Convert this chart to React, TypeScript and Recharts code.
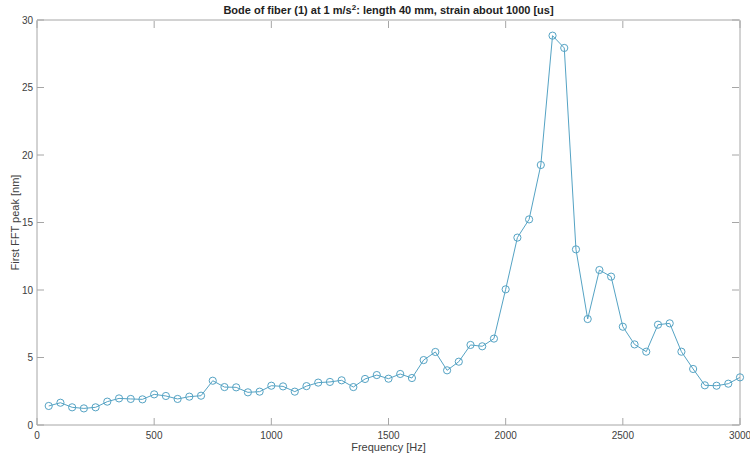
import React from "react";
import { LineChart, Line, XAxis, YAxis, Label } from "recharts";

// ---------------------------------------------------------------------------
// Datos (frecuencia en Hz, pico FFT en nm)
// ---------------------------------------------------------------------------
const FREQS = [
  50, 100, 150, 200, 250, 300, 350, 400, 450, 500,
  550, 600, 650, 700, 750, 800, 850, 900, 950, 1000,
  1050, 1100, 1150, 1200, 1250, 1300, 1350, 1400, 1450, 1500,
  1550, 1600, 1650, 1700, 1750, 1800, 1850, 1900, 1950, 2000,
  2050, 2100, 2150, 2200, 2250, 2300, 2350, 2400, 2450, 2500,
  2550, 2600, 2650, 2700, 2750, 2800, 2850, 2900, 2950, 3000,
];

const PEAKS = [
  1.41, 1.65, 1.31, 1.23, 1.31, 1.73, 1.97, 1.93, 1.9, 2.27,
  2.15, 1.93, 2.1, 2.17, 3.28, 2.81, 2.79, 2.42, 2.47, 2.91,
  2.86, 2.47, 2.88, 3.14, 3.19, 3.31, 2.81, 3.41, 3.7, 3.43,
  3.78, 3.48, 4.81, 5.41, 4.05, 4.69, 5.93, 5.83, 6.4, 10.05,
  13.88, 15.23, 19.26, 28.84, 27.93, 13.01, 7.85, 11.48, 10.99, 7.28,
  5.97, 5.43, 7.43, 7.53, 5.43, 4.15, 2.94, 2.91, 3.06, 3.53,
];

const X_TICKS = [0, 500, 1000, 1500, 2000, 2500, 3000];
const Y_TICKS = [0, 5, 10, 15, 20, 25, 30];

const TITLE = "Bode of fiber (1) at 1 m/s";
const TITLE_REST = ": length 40 mm, strain about 1000 [us]";
const X_LABEL = "Frequency [Hz]";
const Y_LABEL = "First FFT peak [nm]";

// ---------------------------------------------------------------------------
// Estilo tipo MATLAB
// ---------------------------------------------------------------------------
const LINE_COLOR = "#55a3c4";
const AXIS_COLOR = "#a6a6a6";
const TEXT_COLOR = "#404040";
const FONT = "'Liberation Sans', Arial, sans-serif";
const TICK_LEN = 7;

const data = FREQS.map((f, i) => ({ f, v: PEAKS[i] }));

function BottomTick({ x, y, payload }: any) {
  return (
    <g>
      <line x1={x} x2={x} y1={y} y2={y - TICK_LEN} stroke={AXIS_COLOR} />
      <text x={x} y={y + 14} textAnchor="middle" fontSize={10} fill={TEXT_COLOR} fontFamily={FONT}>
        {payload.value}
      </text>
    </g>
  );
}

function TopTick({ x, y }: any) {
  return <line x1={x} x2={x} y1={y + 1} y2={y + 1 + TICK_LEN} stroke={AXIS_COLOR} />;
}

function LeftTick({ x, y, payload }: any) {
  return (
    <g>
      <line x1={x} x2={x + TICK_LEN} y1={y} y2={y} stroke={AXIS_COLOR} />
      <text x={x - 4} y={y + 3.5} textAnchor="end" fontSize={10} fill={TEXT_COLOR} fontFamily={FONT}>
        {payload.value}
      </text>
    </g>
  );
}

function RightTick({ x, y }: any) {
  return <line x1={x - 1} x2={x - 1 - TICK_LEN} y1={y} y2={y} stroke={AXIS_COLOR} />;
}

function CircleDot({ cx, cy }: any) {
  if (cx == null || cy == null) return null;
  return <circle cx={cx} cy={cy} r={3.6} fill="none" stroke={LINE_COLOR} strokeWidth={1} />;
}

export default function App() {
  return (
    <div style={{ position: "fixed", left: 0, top: 0, width: 750, height: 458, background: "#fff" }}>
      <LineChart
        width={750}
        height={458}
        data={data}
        margin={{ top: 19, right: 9, bottom: 0, left: 0 }}
      >
        <XAxis
          dataKey="f"
          type="number"
          domain={[0, 3000]}
          ticks={X_TICKS}
          height={33}
          tickSize={0}
          tickMargin={0}
          tick={<BottomTick />}
          axisLine={{ stroke: AXIS_COLOR }}
          interval={0}
        >
          <Label
            content={({ viewBox }: any) => (
              <text
                x={viewBox.x + viewBox.width / 2}
                y={viewBox.y + 26}
                textAnchor="middle"
                fontSize={11}
                fill={TEXT_COLOR}
                fontFamily={FONT}
              >
                {X_LABEL}
              </text>
            )}
          />
        </XAxis>
        <XAxis
          xAxisId="top"
          dataKey="f"
          orientation="top"
          type="number"
          domain={[0, 3000]}
          ticks={X_TICKS}
          height={1}
          tickSize={0}
          tickMargin={0}
          tick={<TopTick />}
          axisLine={{ stroke: AXIS_COLOR }}
          interval={0}
        >
          <Label
            content={({ viewBox }: any) => (
              <text
                x={viewBox.x + viewBox.width / 2}
                y={viewBox.y - 5}
                textAnchor="middle"
                fontSize={11}
                fontWeight="bold"
                fill="#222"
                fontFamily={FONT}
              >
                {TITLE}
                <tspan fontSize={8} dy={-4}>2</tspan>
                <tspan dy={4}>{TITLE_REST}</tspan>
              </text>
            )}
          />
        </XAxis>
        <YAxis
          type="number"
          domain={[0, 30]}
          ticks={Y_TICKS}
          width={37}
          tickSize={0}
          tickMargin={0}
          tick={<LeftTick />}
          axisLine={{ stroke: AXIS_COLOR }}
          interval={0}
        >
          <Label
            content={({ viewBox }: any) => {
              const cx = 15;
              const cy = viewBox.y + viewBox.height / 2;
              return (
                <text
                  x={cx}
                  y={cy}
                  transform={`rotate(-90 ${cx} ${cy})`}
                  textAnchor="middle"
                  dominantBaseline="central"
                  fontSize={11}
                  fill={TEXT_COLOR}
                  fontFamily={FONT}
                >
                  {Y_LABEL}
                </text>
              );
            }}
          />
        </YAxis>
        <YAxis
          yAxisId="right"
          orientation="right"
          type="number"
          domain={[0, 30]}
          ticks={Y_TICKS}
          width={1}
          tickSize={0}
          tickMargin={0}
          tick={<RightTick />}
          axisLine={{ stroke: AXIS_COLOR }}
          interval={0}
        />
        {/* serie invisible para que se dibujen los ejes superior y derecho (caja MATLAB) */}
        <Line
          xAxisId="top"
          yAxisId="right"
          dataKey="v"
          stroke="none"
          dot={false}
          activeDot={false}
          legendType="none"
          isAnimationActive={false}
        />
        <Line
          dataKey="v"
          stroke={LINE_COLOR}
          strokeWidth={1}
          dot={<CircleDot />}
          activeDot={false}
          isAnimationActive={false}
          type="linear"
        />
      </LineChart>
    </div>
  );
}
